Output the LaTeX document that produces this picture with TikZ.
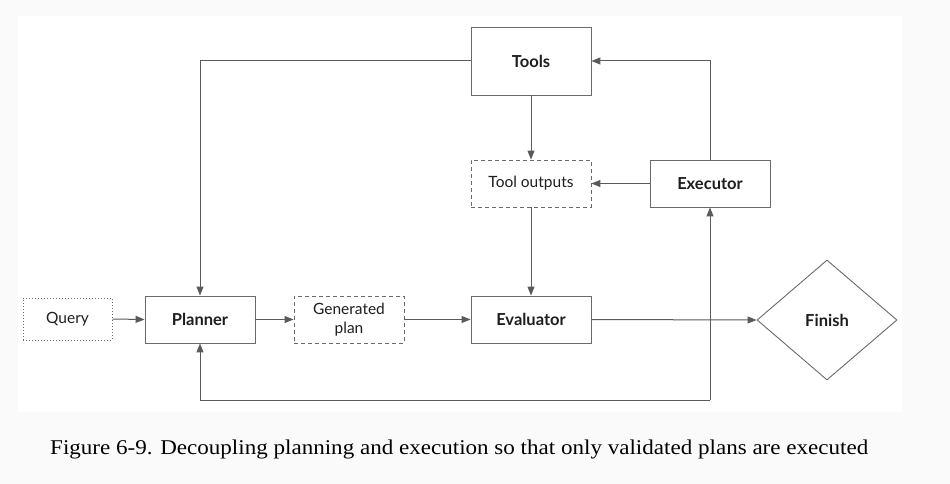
\documentclass[tikz,border=0pt]{standalone}
\usepackage{fontspec}
\setmainfont{Lato}
\newfontfamily\capfont{Liberation Serif}
\usetikzlibrary{arrows.meta,shapes.geometric}
\definecolor{linec}{HTML}{5A5A5A}
\definecolor{boxc}{HTML}{6A6A6A}
\definecolor{txtc}{HTML}{1E1E1E}
\definecolor{outerbg}{HTML}{FAFAFA}
\tikzset{
  every node/.style={text=txtc},
  box/.style={draw=boxc, line width=0.9pt, rectangle, inner sep=0pt, align=center},
  solidbox/.style={box},
  dashbox/.style={box, dash pattern=on 4pt off 3pt},
  dotbox/.style={box, dash pattern=on 1.2pt off 1.8pt, line width=1pt},
  conn/.style={draw=linec, line width=1pt, -{Triangle[length=9pt,width=7pt]}},
  boldlbl/.style={font=\fontsize{16.5}{19}\selectfont\bfseries},
  reglbl/.style={font=\fontsize{15.5}{19}\selectfont},
}
\begin{document}
\begin{tikzpicture}[x=1pt,y=-1pt]
\useasboundingbox (0,0) rectangle (950,484);
\fill[outerbg] (0,0) rectangle (950,484);
\fill[white] (18,16) rectangle (902,412);
\node[solidbox, boldlbl, minimum width=120pt, minimum height=68pt] (tools) at (531,61) {Tools};
\node[dashbox, reglbl, minimum width=120pt, minimum height=47pt] (tout) at (531,183.5) {Tool outputs};
\node[solidbox, boldlbl, minimum width=120pt, minimum height=47pt] (exec) at (710,183.5) {Executor};
\node[dotbox, reglbl, minimum width=89pt, minimum height=42pt] (query) at (67.5,319) {Query};
\node[solidbox, boldlbl, minimum width=110pt, minimum height=47pt] (plan) at (200,319.5) {Planner};
\node[dashbox, reglbl, minimum width=110pt, minimum height=47pt] (gen) at (349,319.5) {Generated\\plan};
\node[solidbox, boldlbl, minimum width=120pt, minimum height=47pt] (eval) at (531,319.5) {Evaluator};
\node[draw=boxc, line width=0.9pt, diamond, aspect=1.17, minimum width=140pt, minimum height=120pt, inner sep=0pt, boldlbl] (fin) at (827,320) {Finish};
\coordinate (tl) at (200,61);
\coordinate (tr) at (710,61);
\coordinate (j) at (710,400);
\draw[conn] (tools.west) -- (tl) -- (plan.north);
\draw[conn] (exec.north) -- (tr) -- (tools.east);
\draw[conn] (tools.south) -- (tout.north);
\draw[conn] (exec.west) -- (tout.east);
\draw[conn] (tout.south) -- (eval.north);
\draw[conn] (query.east) -- (plan.west);
\draw[conn] (plan.east) -- (gen.west);
\draw[conn] (gen.east) -- (eval.west);
\draw[conn] (eval.east) -- (fin.west);
\draw[conn] (j) -- (exec.south);
\draw[conn] (j) -| (plan.south);
\node[anchor=base west, text=black, inner sep=0pt] (cap) at (50,454) {\resizebox{818pt}{\height}{\capfont\fontsize{21}{24}\selectfont Figure 6-9. Decoupling planning and execution so that only validated plans are executed}};
\end{tikzpicture}
\end{document}
